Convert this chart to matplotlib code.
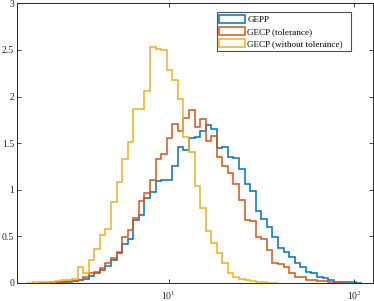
import numpy as np
import matplotlib
matplotlib.use("Agg")
import matplotlib.pyplot as plt
from matplotlib.patches import Patch
from matplotlib.ticker import FixedLocator, NullLocator

plt.rcParams['font.family'] = ['Liberation Serif', 'DejaVu Serif']
plt.rcParams['mathtext.fontset'] = 'custom'
plt.rcParams['mathtext.rm'] = 'Liberation Serif'
plt.rcParams['mathtext.default'] = 'regular'

# bins: log10 edges start at 0.989, width 0.03 (60 bins)
bin_start = 0.989
bin_width = 0.03

gepp = [0, 0, 0.005, 0.005, 0.005, 0.01, 0.01, 0.015, 0.02, 0.03,
        0.045, 0.075, 0.105, 0.14, 0.185, 0.246, 0.32, 0.42, 0.47, 0.68,
        0.725, 0.91, 0.975, 1.093, 1.10, 1.10, 1.254, 1.454, 1.425, 1.55,
        1.568, 1.632, 1.693, 1.647, 1.443, 1.46, 1.354, 1.336, 1.225, 1.065,
        0.99, 0.775, 0.686, 0.60, 0.496, 0.372, 0.329, 0.275, 0.218, 0.168,
        0.121, 0.104, 0.068, 0.05, 0.032, 0.016, 0.016, 0.01, 0.01, 0.005]

gecp_tol = [0, 0, 0.005, 0.005, 0.01, 0.01, 0.015, 0.02, 0.02, 0.03,
            0.065, 0.105, 0.115, 0.165, 0.215, 0.27, 0.33, 0.49, 0.57, 0.70,
            0.88, 0.97, 1.105, 1.325, 1.38, 1.55, 1.71, 1.63, 1.77, 1.855,
            1.675, 1.755, 1.525, 1.575, 1.35, 1.26, 1.18, 1.06, 0.89, 0.68,
            0.66, 0.49, 0.468, 0.354, 0.218, 0.204, 0.175, 0.11, 0.068, 0.068,
            0.032, 0.03, 0.02, 0.02, 0.01, 0.005, 0.005, 0, 0, 0]

gecp_notol = [0.005, 0.01, 0.01, 0.01, 0.015, 0.025, 0.035, 0.035, 0.04, 0.175,
              0.11, 0.25, 0.36, 0.51, 0.575, 0.865, 1.086, 1.33, 1.51, 1.87,
              1.87, 2.06, 2.53, 2.51, 2.50, 2.28, 2.18, 1.97, 1.57, 1.40,
              1.04, 0.80, 0.56, 0.425, 0.318, 0.218, 0.11, 0.065, 0.04, 0.03,
              0.02, 0.015, 0.01, 0.005, 0.005, 0, 0, 0, 0, 0,
              0, 0, 0, 0, 0, 0, 0, 0, 0, 0]

labels = ['GEPP', 'GECP (tolerance)', 'GECP (without tolerance)']
colors = ['#0072BD', '#D95319', '#EDB120']

edges = 10 ** (bin_start + bin_width * np.arange(-25, 36))

fig = plt.figure(figsize=(3.74, 3.01), dpi=100)
ax = fig.add_axes([17 / 374, 18 / 301, 355.7 / 374, 279.7 / 301])

for vals, c in zip([gepp, gecp_tol, gecp_notol], colors):
    v = np.array(vals, dtype=float)
    nz = np.nonzero(v)[0]
    lo, hi = nz[0], nz[-1] + 1
    ax.stairs(v[lo:hi], edges[lo:hi + 1], baseline=0, color=c, lw=1.1)

ax.set_xscale('log')
ax.set_xlim(1.523, 125.6)
ax.set_ylim(0, 3)
ax.xaxis.set_major_locator(FixedLocator([10, 100]))
ax.xaxis.set_minor_locator(NullLocator())
ax.set_xticklabels([r'$10^{1}$', r'$10^{2}$'])
ax.set_yticks([0, 0.5, 1, 1.5, 2, 2.5, 3])
ax.set_yticklabels(['0', '0.5', '1', '1.5', '2', '2.5', '3'])
ax.tick_params(direction='in', length=3, width=0.6, labelsize=7,
               top=True, right=True, colors='0.15', pad=2)
ax.tick_params(axis='x', pad=5)
for s in ax.spines.values():
    s.set_linewidth(0.7)
    s.set_color('0.15')

# legend box spans x 216.7..350.7 px, top at 12.3 px
x0 = (216.7 - 17) / 355.7
w = (350.7 - 216.7) / 355.7
top = (283 - 12.3) / 279.7
handles = [Patch(facecolor='none', edgecolor=c, lw=1.1) for c in colors]
leg = ax.legend(handles, labels, loc='upper left', bbox_to_anchor=(x0, 0, w, top),
                mode='expand', borderaxespad=0, fontsize=6.6, frameon=True,
                fancybox=False, edgecolor='0.15', handlelength=2.8,
                handleheight=0.95, handletextpad=0.25, labelspacing=0.3,
                borderpad=0.3)
leg.get_frame().set_linewidth(0.8)

fig.savefig('out.png', dpi=100)
